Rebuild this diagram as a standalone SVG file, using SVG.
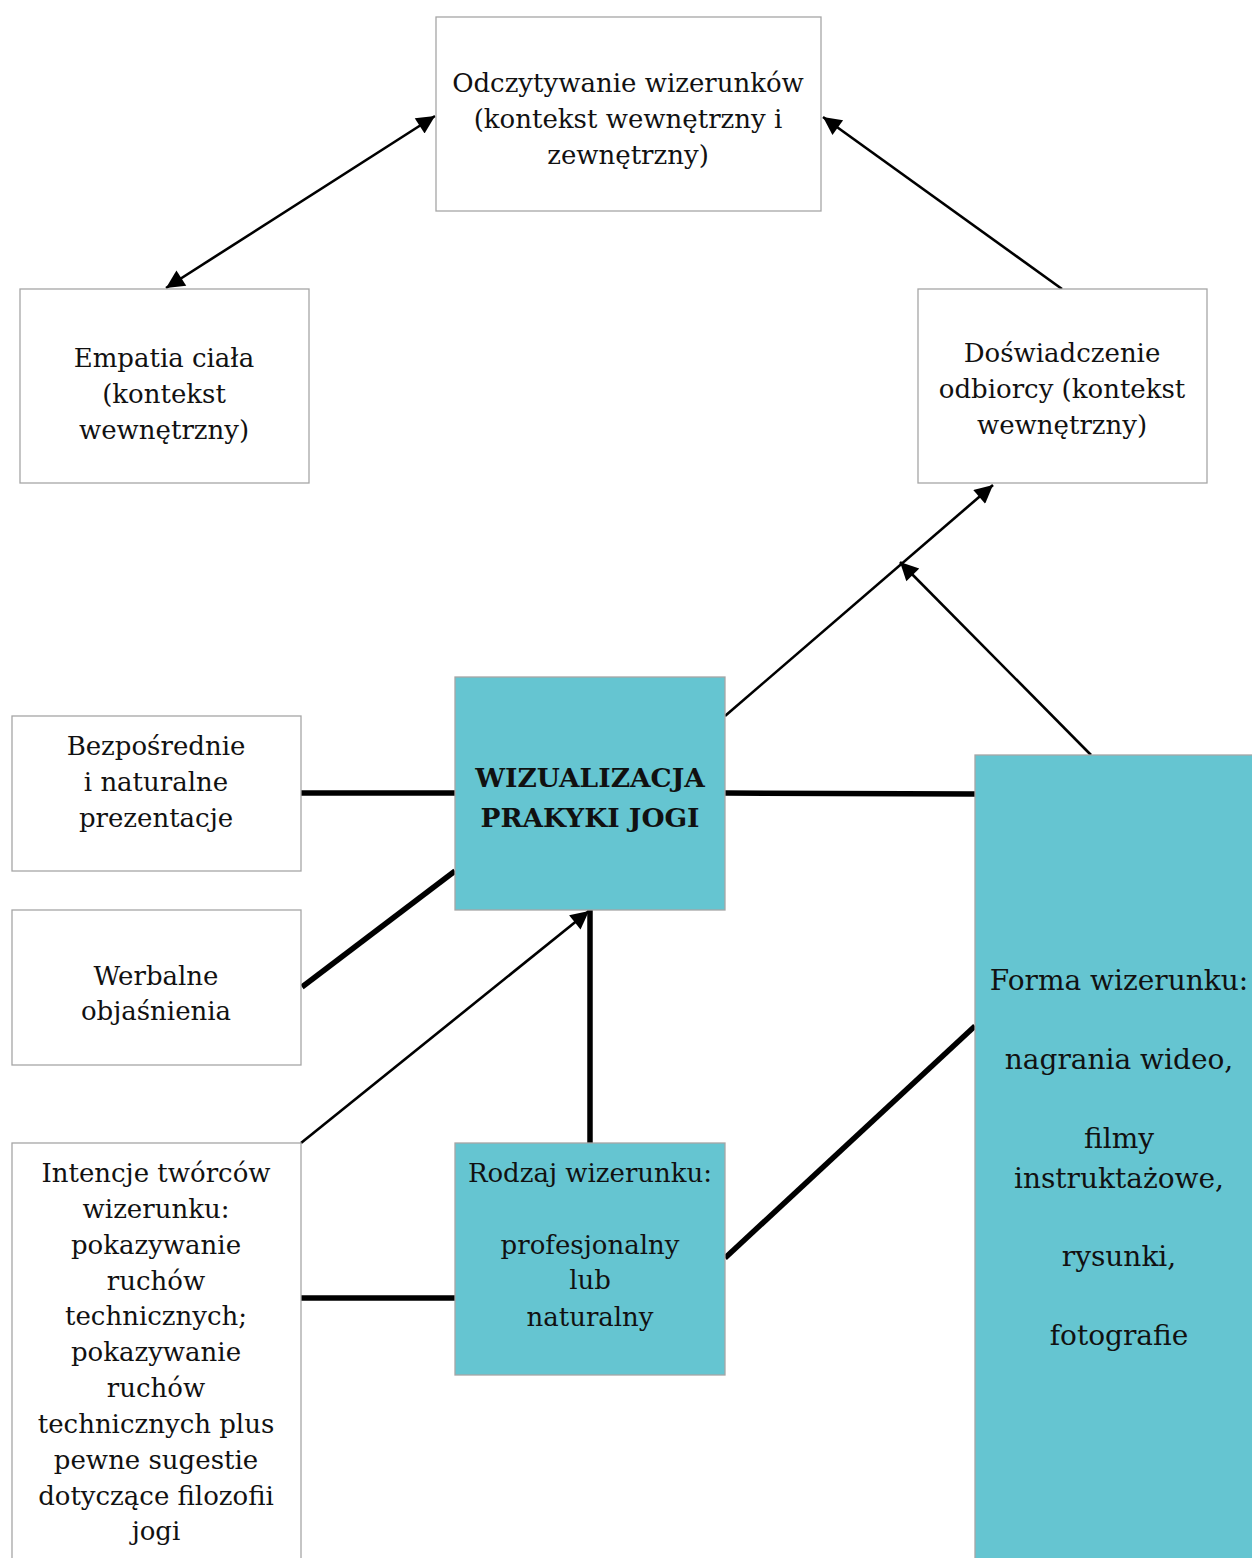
<svg xmlns="http://www.w3.org/2000/svg" width="1252" height="1558" viewBox="0 0 1252 1558">
<style>
.box{fill:#ffffff;stroke:#a6a6a6;stroke-width:1.3}
.teal{fill:#65c5d1;stroke:#a6a6a6;stroke-width:1.3}
text{font-family:"DejaVu Serif","Liberation Serif",serif;font-size:26px;fill:#111;text-anchor:middle}
.b{font-weight:bold;font-size:26.5px}
.f{font-size:28px}
.thin{stroke:#000;stroke-width:2.6;fill:none}
.thick{stroke:#000;stroke-width:5.5;fill:none}
</style>
<defs>
<marker id="ah" viewBox="0 0 10 10" refX="10" refY="5" markerWidth="8" markerHeight="7" markerUnits="strokeWidth" orient="auto-start-reverse">
<path d="M0,0 L10,5 L0,10 z" fill="#000"/>
</marker>
</defs>
<rect width="1252" height="1558" fill="#ffffff"/>
<g id="connectors">
<line class="thin" x1="435" y1="116" x2="166" y2="288" marker-start="url(#ah)" marker-end="url(#ah)"/>
<line class="thin" x1="1062" y1="289" x2="823" y2="117" marker-end="url(#ah)"/>
<line class="thin" x1="725" y1="716" x2="993" y2="485" marker-end="url(#ah)"/>
<line class="thin" x1="1091" y1="755" x2="900" y2="562" marker-end="url(#ah)"/>
<line class="thin" x1="301" y1="1143" x2="589" y2="911" marker-end="url(#ah)"/>
<line class="thick" x1="301" y1="793" x2="455" y2="793"/>
<line class="thick" x1="725" y1="793" x2="975" y2="794"/>
<line class="thick" x1="302" y1="987" x2="455" y2="871"/>
<line class="thick" x1="590" y1="1143" x2="590" y2="910"/>
<line class="thick" x1="301" y1="1298" x2="455" y2="1298"/>
<line class="thick" x1="725" y1="1258" x2="975" y2="1026"/>
</g>
<g id="n-odczytywanie">
<rect class="box" x="436" y="17" width="385" height="194"/>
<text x="628" y="92">Odczytywanie wizerunków</text>
<text x="628" y="128">(kontekst wewnętrzny i</text>
<text x="628" y="164">zewnętrzny)</text>
</g>
<g id="n-empatia">
<rect class="box" x="20" y="289" width="289" height="194"/>
<text x="164" y="367">Empatia ciała</text>
<text x="164" y="403">(kontekst</text>
<text x="164" y="439">wewnętrzny)</text>
</g>
<g id="n-doswiadczenie">
<rect class="box" x="918" y="289" width="289" height="194"/>
<text x="1062" y="362">Doświadczenie</text>
<text x="1062" y="398">odbiorcy (kontekst</text>
<text x="1062" y="434">wewnętrzny)</text>
</g>
<g id="n-wizualizacja">
<rect class="teal" x="455" y="677" width="270" height="233"/>
<text class="b" x="590" y="787">WIZUALIZACJA</text>
<text class="b" x="590" y="827">PRAKYKI JOGI</text>
</g>
<g id="n-bezposrednie">
<rect class="box" x="12" y="716" width="289" height="155"/>
<text x="156" y="755">Bezpośrednie</text>
<text x="156" y="791">i naturalne</text>
<text x="156" y="827">prezentacje</text>
</g>
<g id="n-werbalne">
<rect class="box" x="12" y="910" width="289" height="155"/>
<text x="156" y="985">Werbalne</text>
<text x="156" y="1020">objaśnienia</text>
</g>
<g id="n-intencje">
<rect class="box" x="12" y="1143" width="289" height="430"/>
<text x="156" y="1182">Intencje twórców</text>
<text x="156" y="1218">wizerunku:</text>
<text x="156" y="1254">pokazywanie</text>
<text x="156" y="1290">ruchów</text>
<text x="156" y="1325">technicznych;</text>
<text x="156" y="1361">pokazywanie</text>
<text x="156" y="1397">ruchów</text>
<text x="156" y="1433">technicznych plus</text>
<text x="156" y="1469">pewne sugestie</text>
<text x="156" y="1505">dotyczące filozofii</text>
<text x="156" y="1540">jogi</text>
</g>
<g id="n-rodzaj">
<rect class="teal" x="455" y="1143" width="270" height="232"/>
<text x="590" y="1182">Rodzaj wizerunku:</text>
<text x="590" y="1254">profesjonalny</text>
<text x="590" y="1289">lub</text>
<text x="590" y="1326">naturalny</text>
</g>
<g id="n-forma">
<rect class="teal" x="975" y="755" width="300" height="820"/>
<text class="f" x="1119" y="990">Forma wizerunku:</text>
<text class="f" x="1119" y="1069">nagrania wideo,</text>
<text class="f" x="1119" y="1148">filmy</text>
<text class="f" x="1119" y="1188">instruktażowe,</text>
<text class="f" x="1119" y="1266">rysunki,</text>
<text class="f" x="1119" y="1345">fotografie</text>
</g>
</svg>
